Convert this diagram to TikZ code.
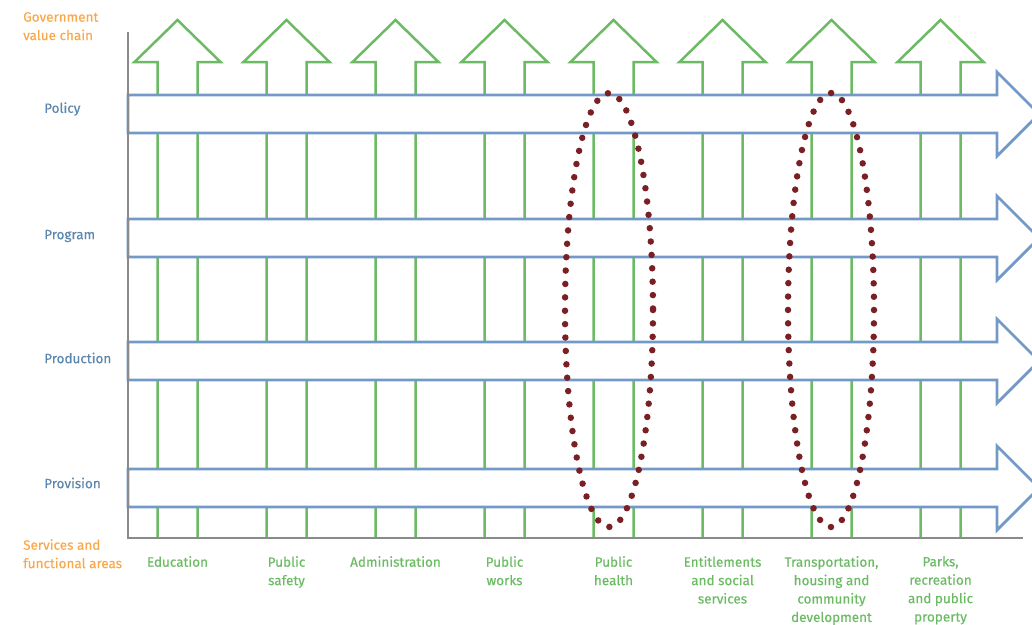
\documentclass[tikz,border=0pt]{standalone}
\usepackage{fontspec}
\setmainfont{Fira Sans}[FakeBold=0.35]
\definecolor{chainorange}{HTML}{F9A84A}
\definecolor{levelblue}{HTML}{5E87AE}
\definecolor{bandblue}{HTML}{7399C8}
\definecolor{svcgreen}{HTML}{6CBB64}
\definecolor{axisgray}{HTML}{8A8A8A}
\definecolor{loopred}{HTML}{7A1F24}

\begin{document}
\begin{tikzpicture}[x=1pt, y=-1pt]
    \tikzstyle{every node}=[inner sep=0pt, font=\fontsize{13.5}{18.4}\selectfont]
    \tikzstyle{svc arrow}=[draw=svcgreen, line width=2.5pt, line join=miter]
    \tikzstyle{level band}=[draw=bandblue, fill=white, line width=2.8pt, line join=miter]
    \tikzstyle{axis line}=[draw=axisgray, line width=2.5pt]
    \tikzstyle{cluster}=[draw=loopred, line width=6.5pt, line cap=round, dash pattern=on 0pt off 13.4pt]
    \tikzstyle{side label}=[anchor=north west, align=left, text=chainorange]
    \tikzstyle{level label}=[anchor=west, text=levelblue]
    \tikzstyle{svc label}=[anchor=north, align=center, text=svcgreen]

    \useasboundingbox (0,0) rectangle (1032,624);

    % service areas (upward arrows)
    \foreach \i/\txt in {1/Education, 2/{Public\\safety}, 3/Administration, 4/{Public\\works},
        5/{Public\\health}, 6/{Entitlements\\and social\\services},
        7/{Transportation,\\housing and\\community\\development},
        8/{Parks,\\recreation\\and public\\property}} {
      \pgfmathsetmacro{\c}{177.5+109*(\i-1)}
      \draw[svc arrow] (\c-20,538) -- (\c-20,62) -- (\c-43,62) -- (\c,20)
        -- (\c+43,62) -- (\c+20,62) -- (\c+20,538);
      \node[svc label] (svc\i) at (\c,556) {\txt};
    }

    % levels of the value chain (rightward arrows)
    \foreach \y/\ly/\name/\txt in {114/109/policy/Policy, 238/236/program/Program,
        361/358/production/Production, 488/483/provision/Provision} {
      \filldraw[level band] (128,\y-19) -- (997,\y-19) -- (997,\y-42) -- (1039,\y)
        -- (997,\y+42) -- (997,\y+19) -- (128,\y+19) -- cycle;
      \node[level label] (\name) at (44,\ly) {\txt};
    }

    % axes
    \draw[axis line] (128,32) -- (128,538) -- (1023,538);

    \node[side label] (chain) at (23,12) {Government\\value chain};
    \node[side label] (areas) at (23,539) {Services and\\functional areas};

    % shared services
    \draw[cluster] (609,310) ellipse [x radius=44, y radius=217];
    \draw[cluster] (831,310) ellipse [x radius=43, y radius=217];
\end{tikzpicture}
\end{document}
